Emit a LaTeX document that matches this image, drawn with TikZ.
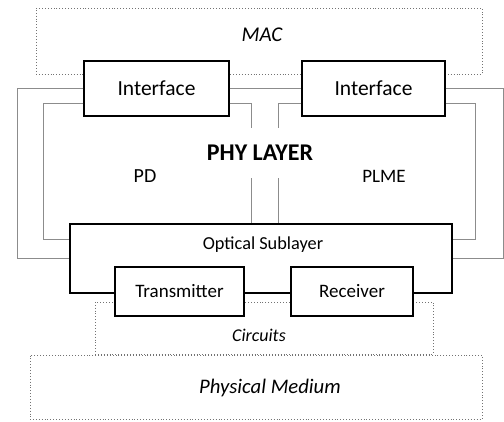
\documentclass[tikz,border=0pt]{standalone}
\usepackage{fontspec}
\setmainfont{Carlito}
\usepackage{tikz}
\usetikzlibrary{positioning}

\begin{document}
\begin{tikzpicture}[x=1pt, y=1pt,
		blk/.style={draw=black, line width=1.3pt, fill=white, inner sep=0pt, font=\fontsize{19}{21}\selectfont},
		dotbox/.style={draw=black!55, dotted, line width=0.9pt, inner sep=0pt},
		wire/.style={draw=black!45, line width=0.9pt}]
			\useasboundingbox (0, 0) rectangle (504, 421);
			% Paths, nodes and wires:
			\node[dotbox, minimum width=446, minimum height=66](MAC) at (259, 380){};
			\node[font=\fontsize{21}{23}\selectfont\itshape](MACt) at (262, 386){MAC};
			\node[dotbox, minimum width=338, minimum height=52](CIR) at (264, 93){};
			\node[font=\fontsize{18}{20}\selectfont\itshape](CIRt) at (259, 86){Circuits};
			\node[dotbox, minimum width=452, minimum height=64](PHM) at (256, 34){};
			\node[font=\fontsize{20.7}{23}\selectfont\itshape](PHMt) at (270, 33){Physical Medium};
			\node[blk, minimum width=382, minimum height=69](OPT) at (261, 162.5){};
			\node[font=\fontsize{18.3}{20}\selectfont](OPTt) at (263, 176){Optical Sublayer};
			\node[blk, minimum width=145, minimum height=55, font=\fontsize{21.5}{23}\selectfont](IFL) at (156.5, 332.5){Interface};
			\node[blk, minimum width=143, minimum height=55, font=\fontsize{21.5}{23}\selectfont](IFR) at (373.5, 332.5){Interface};
			\node[blk, minimum width=129, minimum height=49](TX) at (179.5, 129.5){Transmitter};
			\node[blk, minimum width=122, minimum height=49](RX) at (352, 129.5){Receiver};
			\node[font=\fontsize{20}{22}\selectfont](PD) at (145, 245){PD};
			\node[font=\fontsize{19}{21}\selectfont](PLME) at (384, 245){PLME};
			% left side
			\draw[wire] (IFL.west) -- ++(-66, 0) |- (OPT.west);
			\draw[wire] ([yshift=-15]IFL.west) -- ++(-40, 0) |- ([yshift=19]OPT.west);
			% middle
			\draw[wire] (IFL.east) -- (IFR.west);
			\draw[wire] ([yshift=-15]IFL.east) -- ++(22, 0) coordinate (c1) -- (c1 |- OPT.north);
			\draw[wire] ([yshift=-15]IFR.west) -- ++(-23, 0) coordinate (c2) -- (c2 |- OPT.north);
			% right side
			\draw[wire] (IFR.east) -- ++(58, 0) |- (OPT.east);
			\draw[wire] ([yshift=-15]IFR.east) -- ++(30, 0) |- ([yshift=19]OPT.east);
			\node[fill=white, minimum height=50, font=\fontsize{24}{26}\selectfont\bfseries](PHY) at (260, 268){PHY LAYER};
		\end{tikzpicture}
\end{document}
